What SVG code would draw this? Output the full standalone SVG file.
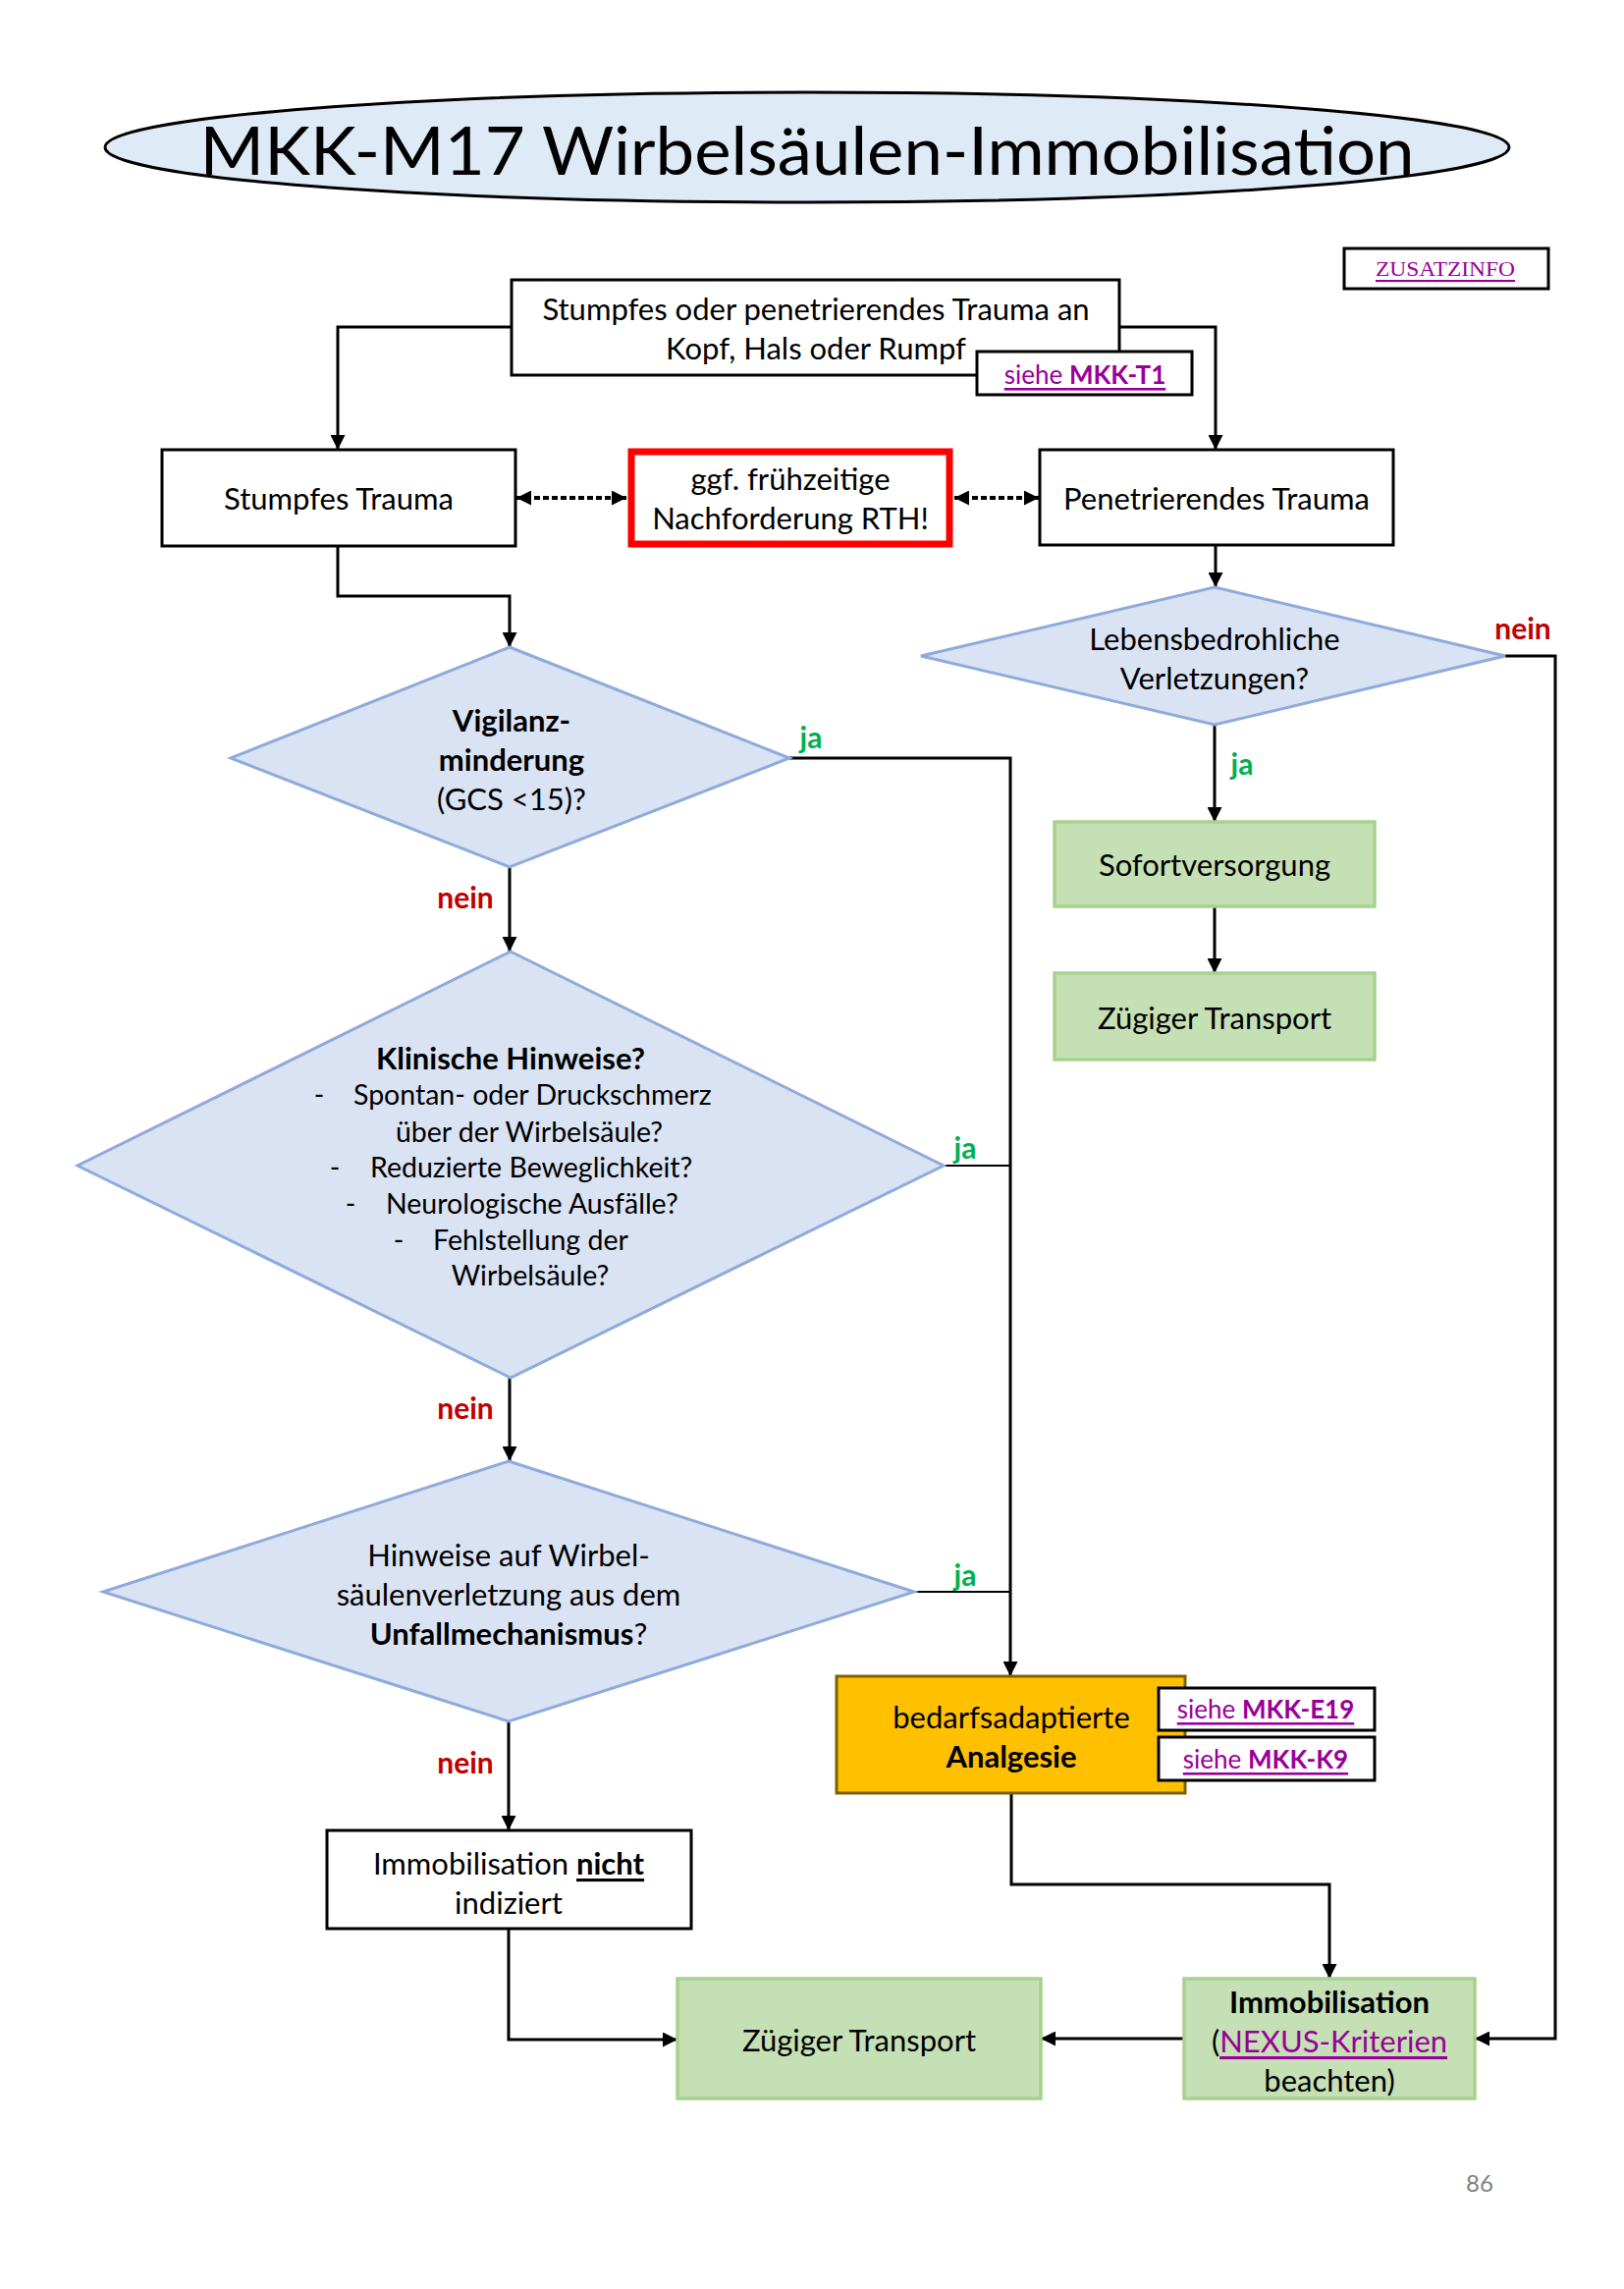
<svg xmlns="http://www.w3.org/2000/svg" width="1654" height="2331" viewBox="0 0 1654 2331">
<style>
text{font-family:Lato,"Liberation Sans",sans-serif;font-size:31px;fill:#000;text-anchor:middle;dominant-baseline:central}
.b{font-weight:bold}
.lnk{fill:#990099;text-decoration:underline}
.ja{fill:#00B050;font-weight:bold;font-size:30px}
.nein{fill:#C00000;font-weight:bold;font-size:30px}
.box{fill:#fff;stroke:#000;stroke-width:3}
.dia{fill:#DAE3F3;stroke:#8FAADC;stroke-width:3}
.grn{fill:#C5E0B4;stroke:#A9D18E;stroke-width:3.5}
.con{fill:none;stroke:#000;stroke-width:3}
.thin{fill:none;stroke:#000;stroke-width:2}
.dash{stroke-dasharray:6,3;stroke-width:4}
.st{text-anchor:start}
.sm{font-size:28.5px}
</style>
<defs>
<marker id="a" viewBox="0 0 10 10" refX="10" refY="5" markerWidth="15" markerHeight="15" markerUnits="userSpaceOnUse" orient="auto-start-reverse"><path d="M0,0 L10,5 L0,10 z" fill="#000"/></marker>
</defs>
<rect width="1654" height="2331" fill="#fff"/>

<g id="title">
<ellipse cx="822" cy="150" rx="715" ry="56" fill="#DEEBF7" stroke="#000" stroke-width="3"/>
<text x="822" y="152" textLength="1237" lengthAdjust="spacingAndGlyphs" style="font-size:67px">MKK-M17 Wirbelsäulen-Immobilisation</text>
</g>

<g id="zusatzinfo">
<rect x="1369" y="253" width="208" height="41" class="box"/>
<text x="1472" y="274" class="lnk" style="font-family:'Liberation Serif',serif;font-size:21px" textLength="142" lengthAdjust="spacingAndGlyphs">ZUSATZINFO</text>
</g>

<g id="connectors">
<path class="con" d="M521,333 H344 V458" marker-end="url(#a)"/>
<path class="con" d="M1140,333 H1238 V458" marker-end="url(#a)"/>
<path class="con dash" d="M526,507 H638" marker-start="url(#a)" marker-end="url(#a)"/>
<path class="con dash" d="M972,507 H1058" marker-start="url(#a)" marker-end="url(#a)"/>
<path class="con" d="M344,556 V607 H519 V659" marker-end="url(#a)"/>
<path class="con" d="M1238,555 V598" marker-end="url(#a)"/>
<path class="con" d="M1237,738 V837" marker-end="url(#a)"/>
<path class="con" d="M1237,923 V991" marker-end="url(#a)"/>
<path class="con" d="M1533,668 H1584 V2076 H1502" marker-end="url(#a)"/>
<path class="con" d="M804,772 H1029 V1707" marker-end="url(#a)"/>
<path class="con" d="M519,883 V969" marker-end="url(#a)"/>
<path class="thin" d="M961,1187 H1029"/>
<path class="con" d="M519,1403 V1488" marker-end="url(#a)"/>
<path class="thin" d="M931,1621 H1029"/>
<path class="con" d="M518,1753 V1864" marker-end="url(#a)"/>
<path class="con" d="M1030,1826 V1919 H1354 V2015" marker-end="url(#a)"/>
<path class="con" d="M1206,2076 H1060" stroke-width="4" marker-end="url(#a)"/>
<path class="con" d="M518,1965 V2077 H690" marker-end="url(#a)"/>
</g>

<g id="labels">
<text x="826" y="750" class="ja">ja</text>
<text x="1265" y="777" class="ja">ja</text>
<text x="983" y="1168" class="ja">ja</text>
<text x="983" y="1603" class="ja">ja</text>
<text x="1551" y="639" class="nein">nein</text>
<text x="474" y="913" class="nein">nein</text>
<text x="474" y="1433" class="nein">nein</text>
<text x="474" y="1794" class="nein">nein</text>
</g>

<g id="n-start">
<rect x="521" y="285" width="619" height="97" class="box"/>
<text x="831" y="314">Stumpfes oder penetrierendes Trauma an</text>
<text x="831" y="354">Kopf, Hals oder Rumpf</text>
</g>
<g id="n-t1">
<rect x="995" y="358" width="219" height="44" class="box"/>
<text x="1105" y="381" class="lnk" style="font-size:26px">siehe <tspan class="b">MKK-T1</tspan></text>
</g>

<g id="n-stumpf">
<rect x="165" y="458" width="360" height="98" class="box"/>
<text x="345" y="507">Stumpfes Trauma</text>
</g>
<g id="n-rth">
<rect x="643" y="460" width="324" height="94" fill="#fff" stroke="#FF0000" stroke-width="7"/>
<text x="805" y="487">ggf. frühzeitige</text>
<text x="805" y="527">Nachforderung RTH!</text>
</g>
<g id="n-penet">
<rect x="1059" y="458" width="360" height="97" class="box"/>
<text x="1239" y="507">Penetrierendes Trauma</text>
</g>

<g id="n-lebens">
<polygon class="dia" points="1237,598 1533,668 1237,738 938,668"/>
<text x="1237" y="650">Lebensbedrohliche</text>
<text x="1237" y="690">Verletzungen?</text>
</g>
<g id="n-sofort">
<rect x="1074" y="837" width="326" height="86" class="grn"/>
<text x="1237" y="880">Sofortversorgung</text>
</g>
<g id="n-zuegig1">
<rect x="1074" y="991" width="326" height="88" class="grn"/>
<text x="1237" y="1036">Zügiger Transport</text>
</g>

<g id="n-vigilanz">
<polygon class="dia" points="519,659 804,772 519,883 235,772"/>
<text x="521" y="733" class="b">Vigilanz-</text>
<text x="521" y="773" class="b">minderung</text>
<text x="521" y="813">(GCS &lt;15)?</text>
</g>

<g id="n-klinisch">
<polygon class="dia" points="520,969 961,1187 520,1403 79,1187"/>
<text x="520" y="1077" class="b">Klinische Hinweise?</text>
<text x="325" y="1114" class="sm">-</text><text x="360" y="1114" class="st sm">Spontan- oder Druckschmerz</text>
<text x="539" y="1152" class="sm">über der Wirbelsäule?</text>
<text x="341" y="1188" class="sm">-</text><text x="377" y="1188" class="st sm">Reduzierte Beweglichkeit?</text>
<text x="357" y="1225" class="sm">-</text><text x="393" y="1225" class="st sm">Neurologische Ausfälle?</text>
<text x="406" y="1262" class="sm">-</text><text x="441" y="1262" class="st sm">Fehlstellung der</text>
<text x="540" y="1298" class="sm">Wirbelsäule?</text>
</g>

<g id="n-unfall">
<polygon class="dia" points="518,1488 931,1621 518,1753 105,1621"/>
<text x="518" y="1583">Hinweise auf Wirbel-</text>
<text x="518" y="1623">säulenverletzung aus dem</text>
<text x="518" y="1663"><tspan class="b">Unfallmechanismus</tspan>?</text>
</g>

<g id="n-analgesie">
<rect x="852" y="1707" width="355" height="119" fill="#FFC000" stroke="#7F6000" stroke-width="3"/>
<text x="1030" y="1748">bedarfsadaptierte</text>
<text x="1030" y="1788" class="b">Analgesie</text>
</g>
<g id="n-e19">
<rect x="1180" y="1719" width="220" height="43" class="box"/>
<text x="1289" y="1740" class="lnk" style="font-size:26px">siehe <tspan class="b">MKK-E19</tspan></text>
</g>
<g id="n-k9">
<rect x="1180" y="1769" width="220" height="44" class="box"/>
<text x="1289" y="1791" class="lnk" style="font-size:26px">siehe <tspan class="b">MKK-K9</tspan></text>
</g>

<g id="n-nicht">
<rect x="333" y="1864" width="371" height="100" class="box"/>
<text x="518" y="1897">Immobilisation <tspan class="b" text-decoration="underline">nicht</tspan></text>
<text x="518" y="1937">indiziert</text>
</g>

<g id="n-zuegig2">
<rect x="690" y="2015" width="370" height="122" class="grn"/>
<text x="875" y="2077">Zügiger Transport</text>
</g>

<g id="n-immob">
<rect x="1206" y="2015" width="296" height="122" class="grn"/>
<text x="1354" y="2038" class="b">Immobilisation</text>
<text x="1354" y="2078">(<tspan class="lnk">NEXUS-Kriterien</tspan></text>
<text x="1354" y="2118">beachten)</text>
</g>

<text x="1507" y="2222" style="font-size:24px;fill:#7F7F7F">86</text>
</svg>
